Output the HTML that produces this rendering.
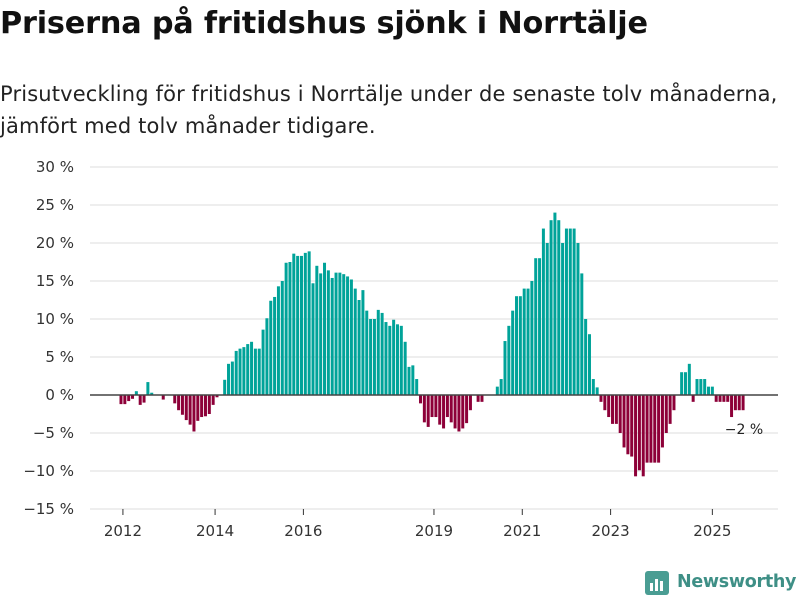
<!DOCTYPE html>
<html><head><meta charset="utf-8"><style>
body{margin:0;width:800px;height:600px;background:#fff;font-family:"Liberation Sans","DejaVu Sans",sans-serif;overflow:hidden;position:relative}
h1{position:absolute;left:0;top:6px;margin:0;font-size:30.3px;font-weight:bold;color:#111;font-family:"DejaVu Sans","Liberation Sans",sans-serif;letter-spacing:-0.2px}
.sub{position:absolute;left:0;top:78px;font-size:21px;line-height:32px;color:#222;font-family:"DejaVu Sans","Liberation Sans",sans-serif;letter-spacing:0.15px;white-space:nowrap}
svg text{font-family:"DejaVu Sans","Liberation Sans",sans-serif}
</style></head><body>
<h1>Priserna på fritidshus sjönk i Norrtälje</h1>
<div class="sub">Prisutveckling för fritidshus i Norrtälje under de senaste tolv månaderna,<br>jämfört med tolv månader tidigare.</div>
<svg id="chart" width="800" height="600" style="position:absolute;left:0;top:0"></svg>
<div style="position:absolute;left:645px;top:569px;display:flex;align-items:center">
<svg width="24" height="26"><rect x="0" y="2" width="24" height="24" rx="3" fill="#4a9d93"/><rect x="5" y="14" width="3" height="8" fill="#fff"/><rect x="10" y="10" width="3" height="12" fill="#fff"/><rect x="15" y="12" width="3" height="10" fill="#fff"/></svg>
<span style="margin-left:8px;font-size:17.5px;font-weight:bold;color:#3e8f86;font-family:'DejaVu Sans','Liberation Sans',sans-serif;letter-spacing:-0.3px">Newsworthy</span></div>
<script>
const values=[-1.2,-1.2,-0.8,-0.5,0.5,-1.3,-1.0,1.7,0.3,0,0,-0.6,
0,0,-1.1,-2,-2.6,-3.3,-3.9,-4.8,-3.4,-2.9,-2.8,-2.5,-1.3,-0.3,0,
2.0,4.1,4.4,5.8,6.1,6.3,6.7,7.0,6.1,6.1,8.6,10.1,12.4,12.9,14.3,15.0,17.4,17.5,18.6,18.3,18.3,18.7,18.9,14.7,17.0,16.0,17.4,16.4,15.4,16.1,16.1,15.9,15.6,15.2,14.0,12.5,13.8,11.1,10.0,10.0,11.2,10.8,9.6,9.1,9.9,9.3,9.1,7.0,3.7,3.9,2.1,
-1.1,-3.6,-4.2,-2.9,-2.9,-3.9,-4.4,-2.9,-3.6,-4.4,-4.8,-4.4,-3.7,-2,0,-0.9,-0.9,0,0,0,
1.1,2.1,7.1,9.1,11.1,13.0,13.0,14.0,14.0,15.0,18.0,18.0,21.9,20.0,23.0,24.0,23.0,20.0,21.9,21.9,21.9,20.0,16.0,10.0,8.0,2.1,1.0,
-0.9,-2,-2.9,-3.8,-3.8,-5,-6.9,-7.8,-8.1,-10.7,-9.9,-10.7,-8.9,-8.9,-8.9,-8.9,-6.9,-5,-3.8,-2,0,
3.0,3.0,4.1,-0.9,2.1,2.1,2.1,1.1,1.1,-0.9,-0.9,-0.9,-0.9,-2.9,-2,-2,-2];
const yTicks=[30,25,20,15,10,5,0,-5,-10,-15];
const yTickLabels=["30 %","25 %","20 %","15 %","10 %","5 %","0 %","−5 %","−10 %","−15 %"];
const xTickIdx=[0.5,24.5,47.5,81.5,104.5,127.5,154];
const xTickLabels=["2012","2014","2016","2019","2021","2023","2025"];
const lastLabel="−2 %";
const NS="http://www.w3.org/2000/svg";
const svg=document.getElementById('chart');
const y=v=>395-v*7.6;
const x=i=>121+i*3.84;
function mk(t,a){const e=document.createElementNS(NS,t);for(const k in a)e.setAttribute(k,a[k]);svg.appendChild(e);return e;}
yTicks.forEach((t,i)=>{
 const g=mk('line',{x1:90,x2:778,y1:y(t),y2:y(t),stroke:'#dcdcdc','stroke-width':1});
 
 
 const tx=mk('text',{x:74,y:y(t)+5,'text-anchor':'end','font-size':15,fill:'#333'});
 tx.textContent=yTickLabels[i];
 
 
});
values.forEach((v,i)=>{
 if(v===0)return;
 const r=mk('rect',{x:x(i)-1.5,width:3,y:Math.min(y(v),y(0)),height:Math.abs(y(v)-y(0)),fill:v>0?'#00a399':'#8d0038'});
 
 
});
const ax=mk('line',{x1:90,x2:778,y1:y(0),y2:y(0),stroke:'#444','stroke-width':1.5});


xTickIdx.forEach((t,i)=>{
 const tk=mk('line',{x1:x(t),x2:x(t),y1:509,y2:515,stroke:'#333'});
 
 
 const tx=mk('text',{x:x(t),y:536,'text-anchor':'middle','font-size':15,fill:'#333'});
 tx.textContent=xTickLabels[i];
 
 
});
const an=mk('text',{x:744,y:434,'text-anchor':'middle','font-size':14,fill:'#222'});
an.textContent=lastLabel;


</script>
</body></html>
